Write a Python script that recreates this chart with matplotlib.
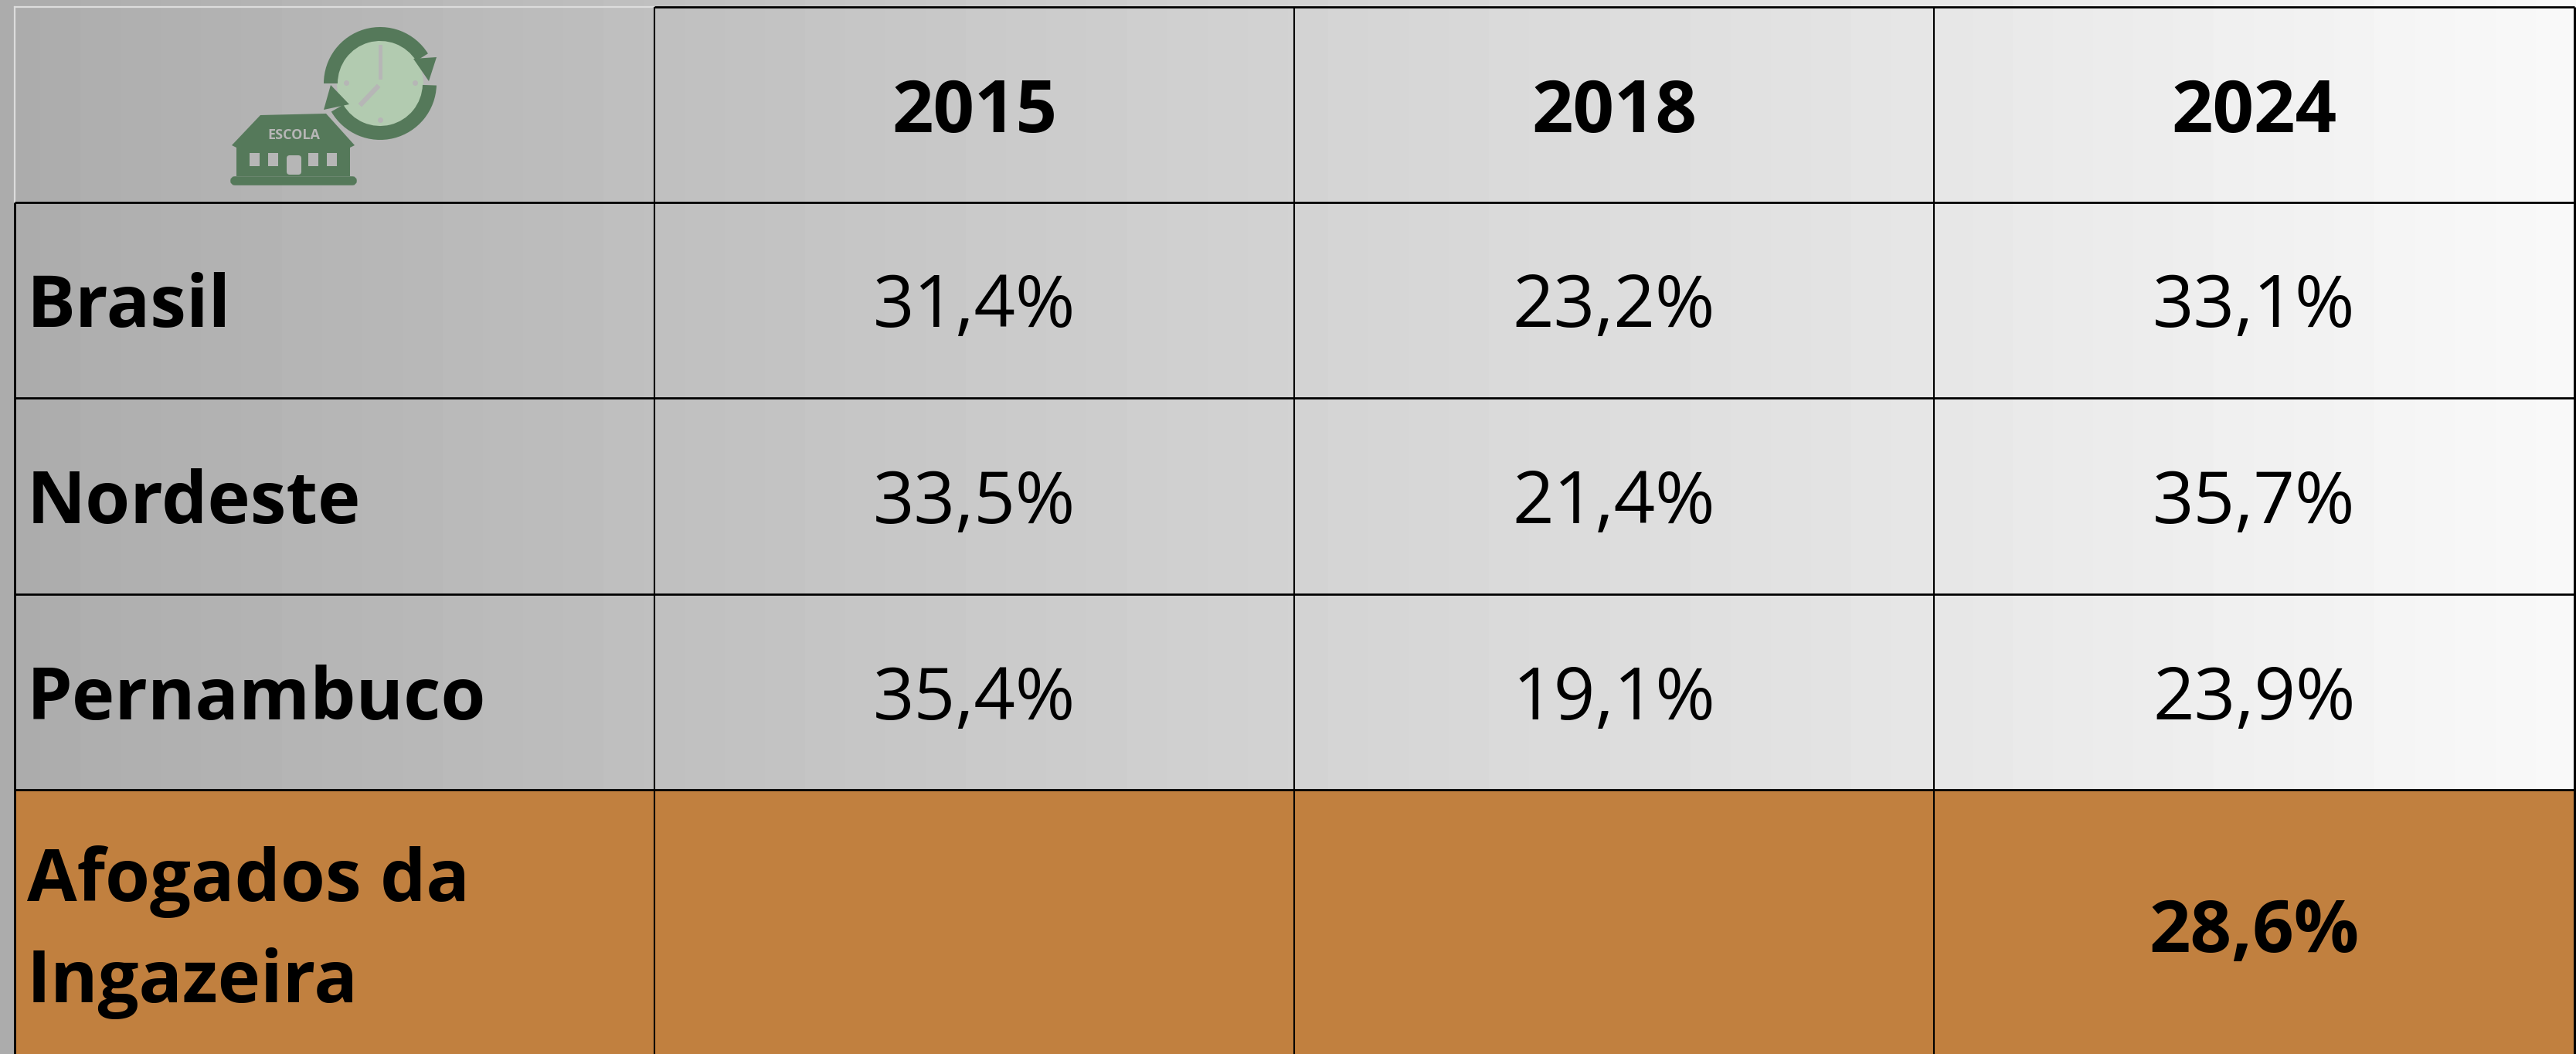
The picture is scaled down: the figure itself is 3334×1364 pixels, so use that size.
import numpy as np
import matplotlib.pyplot as plt
from matplotlib.patches import Circle, FancyBboxPatch, Polygon, Rectangle, Wedge

# table content
years = ["2015", "2018", "2024"]
regions = ["Brasil", "Nordeste", "Pernambuco"]
values_2015 = ["31,4%", "33,5%", "35,4%"]
values_2018 = ["23,2%", "21,4%", "19,1%"]
values_2024 = ["33,1%", "35,7%", "23,9%"]
city_lines = ["Afogados da", "Ingazeira"]
city_value = "28,6%"

# grid lines in image pixels
col_edges = [19, 847, 1675, 2503, 3332]
row_edges = [9, 262, 515, 769, 1022, 1364]

W, H = 3334, 1364
FS = 67.5
ORANGE = "#c1803f"
GREEN = "#55795a"
FACE = "#b2cbb0"
GREY = "#b6b6b6"

plt.rcParams['font.family'] = ['Open Sans', 'DejaVu Sans']

fig = plt.figure(figsize=(W / 100, H / 100), dpi=100)
ax = fig.add_axes([0, 0, 1, 1])
ax.set_xlim(0, W)
ax.set_ylim(H, 0)
ax.axis('off')

# Background: horizontal grey gradient, orange last row
gradient = np.linspace(172, 249, 64).reshape(1, -1)
ax.imshow(gradient, extent=(0, W, H, 0), cmap='gray', vmin=0, vmax=255,
          aspect='auto', interpolation='nearest', zorder=0)
ax.add_patch(Rectangle((col_edges[0], row_edges[4]), col_edges[-1] - col_edges[0],
                       row_edges[5] - row_edges[4], color=ORANGE, lw=0, zorder=1))

# Grid
black = dict(color='black', zorder=3, solid_capstyle='butt')
ax.plot([col_edges[0], col_edges[1]], [row_edges[0]] * 2, color='#dcdcdc', lw=1.6, zorder=2)
ax.plot([col_edges[0]] * 2, [row_edges[0], row_edges[1]], color='#dcdcdc', lw=1.6, zorder=2)
ax.plot([col_edges[1], col_edges[-1]], [row_edges[0]] * 2, lw=2.0, **black)
ax.plot([col_edges[-1]] * 2, [row_edges[0], H], lw=2.2, **black)
for y in row_edges[1:5]:
    ax.plot([col_edges[0], col_edges[-1]], [y, y], lw=2.0, **black)
ax.plot([col_edges[0]] * 2, [row_edges[1], H], lw=2.0, **black)
for x in col_edges[1:4]:
    ax.plot([x, x], [row_edges[0], H], lw=1.5, **black)

# Header and rows
col_centers = [(a + b) / 2 for a, b in zip(col_edges[1:-1], col_edges[2:])]
for x, label in zip(col_centers, years):
    ax.text(x, 171, label, ha='center', va='baseline', fontsize=FS, fontweight='bold')

row_base = [423, 677, 931]
for i, y in enumerate(row_base):
    ax.text(35, y, regions[i], ha='left', va='baseline', fontsize=FS, fontweight='bold')
    for x, col in zip(col_centers, [values_2015, values_2018, values_2024]):
        ax.text(x, y, col[i], ha='center', va='baseline', fontsize=FS)

for y, line in zip([1166, 1297], city_lines):
    ax.text(35, y, line, ha='left', va='baseline', fontsize=FS, fontweight='bold')
ax.text(col_centers[2], 1232, city_value, ha='center', va='baseline',
        fontsize=FS, fontweight='bold')

# Icon: clock with arrows
cx, cy = 492, 108
ax.add_patch(Circle((cx, cy), 56, color=FACE, lw=0, zorder=4))
ax.add_patch(Wedge((cx, cy), 73, 180, 328, width=18, color=GREEN, lw=0, zorder=5))
ax.add_patch(Wedge((cx, cy), 73, 2, 150, width=18, color=GREEN, lw=0, zorder=5))
ax.add_patch(Polygon([(565, 74), (535, 76), (555, 105)], color=GREEN, lw=0, zorder=5))
ax.add_patch(Polygon([(419, 142), (452, 135), (428, 110)], color=GREEN, lw=0, zorder=5))
ax.plot([492, 492], [60, 100], color=GREY, lw=3.5, zorder=6)
ax.plot([488, 468], [113, 134], color=GREY, lw=4.5, zorder=6)
ax.scatter([537, 492, 448], [107, 155, 107], s=25, color=GREY, lw=0, zorder=6)

# Icon: school
ax.add_patch(Polygon([(300, 188), (337, 149), (422, 147), (459, 188), (453, 191),
                      (453, 228), (306, 228), (306, 191)], color=GREEN, lw=0, zorder=5))
ax.add_patch(FancyBboxPatch((301, 231), 158, 6, boxstyle="round,pad=0,rounding_size=3",
                            fc=GREEN, ec=GREEN, lw=4, zorder=5))
for wx in [323, 347, 399, 423]:
    ax.add_patch(Rectangle((wx, 198), 13, 17, color=GREY, lw=0, zorder=6))
ax.add_patch(FancyBboxPatch((371, 201), 19, 25, boxstyle="round,pad=0,rounding_size=4",
                            fc=GREY, ec=GREY, lw=0, zorder=6))
ax.text(380, 180, "ESCOLA", ha='center', va='baseline', fontsize=13, fontweight='bold',
        color=GREY, zorder=6)

fig.savefig('out.png', dpi=100)
